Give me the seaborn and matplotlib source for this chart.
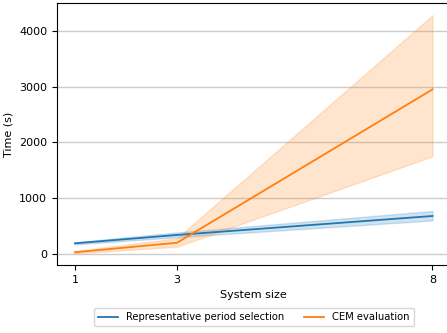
import matplotlib
matplotlib.use("Agg")
import matplotlib.pyplot as plt
import seaborn as sns
import pandas as pd

# system sizes and run time (s): low / median / high for each size
sizes = [1, 3, 8]
rps_low = [170, 300, 600]
rps_mid = [190, 340, 680]
rps_high = [210, 385, 770]
cem_low = [10, 130, 1750]
cem_mid = [30, 200, 2950]
cem_high = [50, 280, 4280]

rows = []
for name, lo, mid, hi in [("Representative period selection", rps_low, rps_mid, rps_high),
                          ("CEM evaluation", cem_low, cem_mid, cem_high)]:
    for i, s in enumerate(sizes):
        for v in (lo[i], mid[i], hi[i]):
            rows.append({"System size": s, "Time (s)": v, "task": name})
df = pd.DataFrame(rows)

fig = plt.figure(figsize=(4.47, 3.33), dpi=100)
ax = fig.add_axes([0.1275, 0.204, 0.88, 0.787])
sns.lineplot(data=df, x="System size", y="Time (s)", hue="task",
             estimator="median", errorbar=("pi", 100),
             palette=["#1f77b4", "#ff7f0e"], linewidth=1.3, ax=ax, legend=True)

ax.set_xticks(sizes)
ax.set_xlim(0.65, 8.35)
ax.set_ylim(-200, 4500)
ax.set_yticks([0, 1000, 2000, 3000, 4000])
ax.grid(axis="y", color="#cccccc", linewidth=1)
ax.set_axisbelow(True)
ax.set_xlabel("System size", fontsize=8)
ax.set_ylabel("Time (s)", fontsize=8)
ax.tick_params(labelsize=8)

handles, labels = ax.get_legend_handles_labels()
ax.get_legend().remove()
fig.legend(handles, labels, loc="center", bbox_to_anchor=(0.568, 0.048),
           ncol=2, fontsize=7.2, frameon=True)

fig.savefig("out.png", dpi=100)
